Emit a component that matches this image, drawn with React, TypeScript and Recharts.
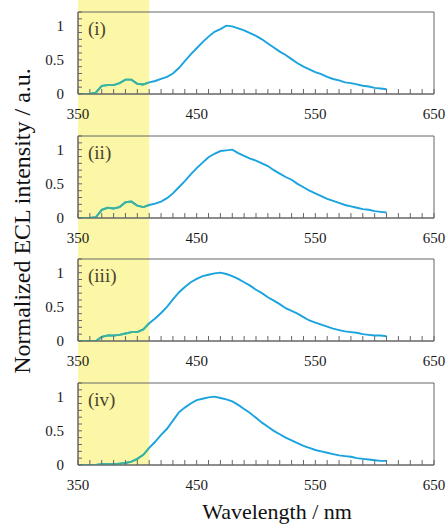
import React from 'react';
import { LineChart, Line, XAxis, YAxis, ReferenceArea } from 'recharts';

// Wavelength grid (nm)
const WAVELENGTH = [
  350, 355, 360, 365, 370, 375, 380, 385, 390, 395,
  400, 405, 410, 415, 420, 425, 430, 435, 440, 445,
  450, 455, 460, 465, 470, 475, 480, 485, 490, 495,
  500, 505, 510, 515, 520, 525, 530, 535, 540, 545,
  550, 555, 560, 565, 570, 575, 580, 585, 590, 595,
  600, 605, 610,
];

const SERIES_I = [
  0, 0, 0, 0.02, 0.12, 0.13, 0.13, 0.16, 0.21, 0.21,
  0.15, 0.14, 0.17, 0.19, 0.22, 0.25, 0.3, 0.38, 0.48, 0.58,
  0.67, 0.76, 0.84, 0.91, 0.95, 1.0, 0.99, 0.96, 0.93, 0.89,
  0.85, 0.8, 0.74, 0.68, 0.62, 0.57, 0.51, 0.45, 0.4, 0.36,
  0.32, 0.29, 0.25, 0.22, 0.2, 0.17, 0.16, 0.14, 0.12, 0.11,
  0.09, 0.08, 0.07,
];

const SERIES_II = [
  0, 0, 0, 0.01, 0.12, 0.15, 0.14, 0.16, 0.23, 0.24,
  0.18, 0.16, 0.19, 0.21, 0.24, 0.29, 0.36, 0.45, 0.54, 0.64,
  0.73, 0.81, 0.89, 0.94, 0.98, 0.99, 1.0, 0.95, 0.91, 0.87,
  0.84, 0.8, 0.76, 0.7, 0.65, 0.6, 0.56, 0.5, 0.45, 0.4,
  0.36, 0.32, 0.28, 0.25, 0.22, 0.19, 0.17, 0.15, 0.13, 0.12,
  0.1, 0.09, 0.08,
];

const SERIES_III = [
  0, 0, 0, 0, 0.06, 0.08, 0.08, 0.09, 0.11, 0.13,
  0.13, 0.17, 0.26, 0.33, 0.41, 0.5, 0.61, 0.71, 0.79, 0.86,
  0.91, 0.95, 0.97, 0.99, 1.0, 0.98, 0.95, 0.91, 0.86, 0.81,
  0.75, 0.7, 0.64, 0.59, 0.54, 0.48, 0.44, 0.4, 0.35, 0.3,
  0.27, 0.24, 0.21, 0.18, 0.16, 0.14, 0.13, 0.12, 0.1, 0.09,
  0.08, 0.08, 0.07,
];

const SERIES_IV = [
  0, 0, 0, 0, 0.01, 0.01, 0.01, 0.02, 0.03, 0.05,
  0.09, 0.15, 0.25, 0.34, 0.44, 0.53, 0.65, 0.77, 0.84, 0.9,
  0.95, 0.97, 0.99, 1.0, 0.98, 0.96, 0.93, 0.88, 0.82, 0.76,
  0.69, 0.62, 0.56, 0.5, 0.45, 0.4, 0.36, 0.32, 0.28, 0.25,
  0.22, 0.2, 0.18, 0.16, 0.14, 0.13, 0.12, 0.1, 0.09, 0.08,
  0.07, 0.06, 0.06,
];

const PANEL_LABELS = ['(i)', '(ii)', '(iii)', '(iv)'];
const PANEL_SERIES = [SERIES_I, SERIES_II, SERIES_III, SERIES_IV];

const X_TICKS = [
  350, 360, 370, 380, 390, 400, 410, 420, 430, 440,
  450, 460, 470, 480, 490, 500, 510, 520, 530, 540,
  550, 560, 570, 580, 590, 600, 610, 620, 630, 640, 650,
];
const X_LABELS = [350, 450, 550, 650];
const Y_TICKS = [0, 0.1, 0.2, 0.3, 0.4, 0.5, 0.6, 0.7, 0.8, 0.9, 1.0, 1.1, 1.2];
const Y_LABELS = [0, 0.5, 1];
const HIGHLIGHT = [350, 410];

const FONT = '"Liberation Serif", "Times New Roman", serif';
const LINE_COLOR = '#1aa3df';
const LINE_IN_BAND = '#3ab59c';
const AXIS_COLOR = '#666';

const TOPS = [0, 124, 247, 371];
const HEIGHTS = [124, 123, 124, 154];
const MT = 12;
const PLOT_H = 82;

const XTick = (p: any) => {
  const v = p.payload.value;
  if (!X_LABELS.includes(v)) return <g />;
  return (
    <text x={p.x} y={p.y} dy="0.71em" textAnchor="middle" fontSize={15} fontFamily={FONT} fill="#1a1a1a">
      {v}
    </text>
  );
};

const YTick = (p: any) => {
  const v = p.payload.value;
  if (!Y_LABELS.includes(v)) return <g />;
  return (
    <text x={p.x} y={p.y} dy="0.355em" textAnchor="end" fontSize={15} fontFamily={FONT} fill="#1a1a1a">
      {String(v)}
    </text>
  );
};

function Panel({ index }: { index: number }) {
  const h = HEIGHTS[index];
  const last = index === PANEL_SERIES.length - 1;
  const rows = WAVELENGTH.map((wl, i) => ({ wl, v: PANEL_SERIES[index][i] }));
  const bandRows = rows.filter((r) => r.wl <= HIGHLIGHT[1]);
  const bandShape = (p: any) => (
    <rect
      x={p.x}
      y={p.y - MT}
      width={p.width}
      height={last ? p.height + MT : h}
      fill="#fbf7a6"
    />
  );
  return (
    <div style={{ position: 'absolute', left: 0, top: TOPS[index] }}>
      <LineChart width={448} height={h} data={rows} margin={{ top: MT, right: 14, bottom: 0, left: 0 }}>
        <ReferenceArea
          x1={HIGHLIGHT[0]}
          x2={HIGHLIGHT[1]}
          y1={0}
          y2={1.2}
          ifOverflow="visible"
          shape={bandShape}
          label={{
            value: PANEL_LABELS[index],
            position: 'insideTopLeft',
            offset: 10,
            fontSize: 19,
            fontFamily: FONT,
            fill: '#4a4330',
          }}
        />
        <XAxis
          dataKey="wl"
          type="number"
          domain={[350, 650]}
          ticks={X_TICKS}
          interval={0}
          tickSize={-5}
          tickMargin={19}
          tick={XTick}
          height={h - MT - PLOT_H}
          axisLine={{ stroke: AXIS_COLOR }}
          tickLine={{ stroke: AXIS_COLOR }}
          allowDataOverflow
        />
        <YAxis
          type="number"
          domain={[0, 1.2]}
          ticks={Y_TICKS}
          interval={0}
          tickSize={-4}
          tickMargin={18}
          tick={YTick}
          width={78}
          axisLine={{ stroke: AXIS_COLOR }}
          tickLine={{ stroke: AXIS_COLOR }}
          allowDataOverflow
        />
        <ReferenceArea x1={350} x2={650} y1={0} y2={1.2} fill="none" stroke={AXIS_COLOR} strokeWidth={1} ifOverflow="visible" />
        <Line
          type="linear"
          dataKey="v"
          stroke={LINE_COLOR}
          strokeWidth={1.9}
          dot={false}
          isAnimationActive={false}
        />
        <Line
          type="linear"
          data={bandRows}
          dataKey="v"
          stroke={LINE_IN_BAND}
          strokeWidth={1.9}
          dot={false}
          isAnimationActive={false}
        />
      </LineChart>
    </div>
  );
}

export default function App() {
  return (
    <div style={{ position: 'absolute', left: 0, top: 0, width: 448, height: 525, background: '#fff' }}>
      {PANEL_SERIES.map((_, i) => (
        <Panel key={i} index={i} />
      ))}
      <svg width={448} height={525} style={{ position: 'absolute', left: 0, top: 0, pointerEvents: 'none' }}>
        <text transform="rotate(-90)" x={-221} y={30} textAnchor="middle" fontSize={24} fontFamily={FONT} fill="#111">
          Normalized ECL intensity / a.u.
        </text>
        <text x={277} y={519} textAnchor="middle" fontSize={22} fontFamily={FONT} fill="#111">
          Wavelength / nm
        </text>
      </svg>
    </div>
  );
}
